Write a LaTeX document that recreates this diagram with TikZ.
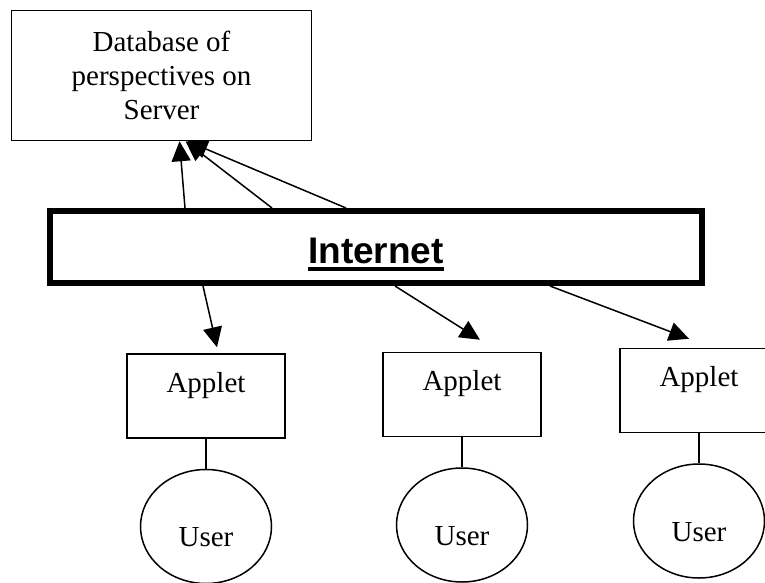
\documentclass[tikz,border=0pt]{standalone}
\usepackage{fontspec}
\setmainfont{Liberation Serif}
\newfontfamily\netfont{Liberation Sans}
\usetikzlibrary{shapes.geometric,arrows.meta,positioning}
\newcommand{\netline}[1]{\setbox0\hbox{#1}\rlap{\rule[-8pt]{\wd0}{4pt}}\box0}

\begin{document}
\begin{tikzpicture}[
    x=1pt, y=-1pt,
    node distance=30pt,
    font=\fontsize{29}{34}\selectfont,
    dbbox/.style={rectangle, draw, line width=1.5pt, minimum width=300pt, minimum height=130pt, align=center},
    net/.style={rectangle, draw, line width=6pt, minimum width=652pt, minimum height=72pt, inner sep=0pt, text height=32pt, text depth=0pt, font=\fontsize{37}{44}\selectfont\netfont\bfseries},
    applet/.style={rectangle, draw, line width=1.5pt, minimum width=158pt, inner sep=0pt, text height=38pt, text depth=46pt},
    user/.style={ellipse, draw, line width=1.5pt, minimum width=131pt, minimum height=114pt, inner sep=0pt, text height=40pt, text depth=0pt},
    arrow/.style={-{Triangle[length=20pt,width=19pt]}, line width=1.5pt},
    link/.style={line width=1.5pt}
]
    \useasboundingbox (0,0) rectangle (765,583);

    \node[dbbox] (dbase) at (161.5,75.5) {Database of\\perspectives on\\Server};
    \node[net] (net) at (376,247) {\netline{Internet}};

    \node[applet] (applet1) at (206,396) {Applet};
    \node[applet] (applet2) at (462,394.5) {Applet};
    \node[applet] (applet3) at (699,390.5) {Applet};
    \node[user, below=of applet1] (user1) {User};
    \node[user, below=of applet2] (user2) {User};
    \node[user, below=of applet3] (user3) {User};

    % up to the server
    \draw[arrow] ([xshift=138pt]net.north west) -- ([xshift=18pt]dbase.south);
    \draw[arrow] ([xshift=225pt]net.north west) -- ([xshift=24pt]dbase.south);
    \draw[arrow] ([xshift=299pt]net.north west) -- ([xshift=26pt]dbase.south);

    % down to the applets
    \draw[arrow] ([xshift=156pt]net.south west) -- ([xshift=11pt,yshift=6pt]applet1.north);
    \draw[arrow] ([xshift=348pt]net.south west) -- ([xshift=18pt,yshift=12pt]applet2.north);
    \draw[arrow] ([xshift=503pt]net.south west) -- ([xshift=-10pt,yshift=9pt]applet3.north);

    \draw[link] (applet1) -- (user1);
    \draw[link] (applet2) -- (user2);
    \draw[link] (applet3) -- (user3);
\end{tikzpicture}
\end{document}
